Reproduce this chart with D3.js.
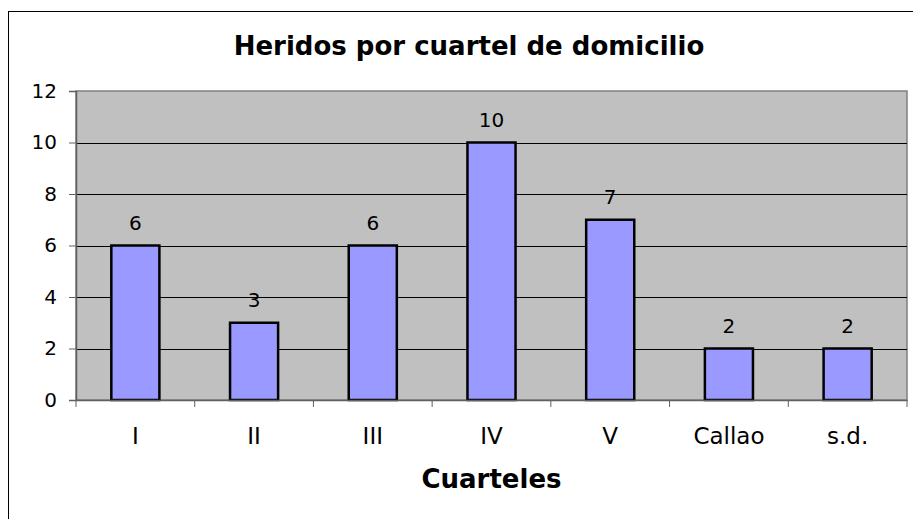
<!DOCTYPE html>
<html>
<head>
<meta charset="utf-8">
<script src="https://cdn.jsdelivr.net/npm/d3@7"></script>
<style>
  body { margin: 0; background: #ffffff; }
  text { font-family: "DejaVu Sans", Verdana, sans-serif; fill: #000; }
</style>
</head>
<body>
<script>
// chart data
var categories = ["I", "II", "III", "IV", "V", "Callao", "s.d."];
var heridos = [6, 3, 6, 10, 7, 2, 2];
var yTicks = [0, 2, 4, 6, 8, 10, 12];

var width = 913, height = 519;
var plot = { left: 76, top: 91, right: 907, bottom: 400 };

var svg = d3.select("body").append("svg")
    .attr("width", width)
    .attr("height", height);

// outer chart frame (runs off the right and bottom of the picture)
svg.append("rect")
    .attr("x", 8.5).attr("y", 11.5)
    .attr("width", 940).attr("height", 540)
    .attr("fill", "#fff")
    .attr("stroke", "#000").attr("stroke-width", 1);

var x = d3.scaleBand()
    .domain(categories)
    .range([plot.left, plot.right])
    .paddingInner(0.595)
    .paddingOuter(0.2975);

var xTicks = d3.scaleBand().domain(categories).range([plot.left, plot.right]);

var y = d3.scaleLinear().domain([0, 12]).range([plot.bottom, plot.top]);

// plot area background
svg.append("rect")
    .attr("x", plot.left).attr("y", plot.top)
    .attr("width", plot.right - plot.left).attr("height", plot.bottom - plot.top)
    .attr("fill", "#c0c0c0")
    .attr("stroke", "#808080").attr("stroke-width", 1.5);

// gridlines
svg.append("g").selectAll("line")
    .data(yTicks.filter(function(d) { return d > 0 && d < 12; }))
    .enter().append("line")
    .attr("x1", plot.left).attr("x2", plot.right)
    .attr("y1", function(d) { return Math.round(y(d)) + 0.5; })
    .attr("y2", function(d) { return Math.round(y(d)) + 0.5; })
    .attr("stroke", "#000").attr("stroke-width", 1);

// bars
svg.append("g").selectAll("rect")
    .data(heridos)
    .enter().append("rect")
    .attr("x", function(d, i) { return x(categories[i]); })
    .attr("y", function(d) { return y(d); })
    .attr("width", x.bandwidth())
    .attr("height", function(d) { return y(0) - y(d); })
    .attr("fill", "#9999ff")
    .attr("stroke", "#000").attr("stroke-width", 2.5);

// value labels
svg.append("g").selectAll("text")
    .data(heridos)
    .enter().append("text")
    .attr("x", function(d, i) { return x(categories[i]) + x.bandwidth() / 2; })
    .attr("y", function(d) { return y(d) - 16; })
    .attr("text-anchor", "middle")
    .attr("font-size", "20px")
    .text(function(d) { return d; });

// y axis
var yAxis = d3.axisLeft(y).tickValues(yTicks).tickSize(7).tickPadding(12);
var gy = svg.append("g")
    .attr("transform", "translate(" + plot.left + ",0)")
    .call(yAxis);
gy.select(".domain").attr("stroke", "#606060").attr("stroke-width", 1.5);
gy.selectAll(".tick line").attr("stroke", "#606060");
gy.selectAll("text").attr("font-size", "20px").attr("fill", "#000");

// x axis
var xAxis = d3.axisBottom(xTicks).tickSize(0).tickPadding(28);
var gx = svg.append("g")
    .attr("transform", "translate(0," + plot.bottom + ")")
    .call(xAxis);
gx.select(".domain").attr("stroke", "#606060").attr("stroke-width", 1.5);
gx.selectAll("text").attr("font-size", "23px").attr("fill", "#000");

// category separators on the x axis
var seps = [plot.left].concat(categories.map(function(c) { return xTicks(c) + xTicks.bandwidth(); }));
gx.selectAll(".sep")
    .data(seps)
    .enter().append("line")
    .attr("class", "sep")
    .attr("x1", function(d) { return d; }).attr("x2", function(d) { return d; })
    .attr("y1", 0).attr("y2", 7)
    .attr("stroke", "#606060");

// titles
svg.append("text")
    .attr("x", 469).attr("y", 55)
    .attr("text-anchor", "middle")
    .attr("font-size", "26px")
    .attr("font-weight", "bold")
    .text("Heridos por cuartel de domicilio");

svg.append("text")
    .attr("x", (plot.left + plot.right) / 2).attr("y", 488)
    .attr("text-anchor", "middle")
    .attr("font-size", "26px")
    .attr("font-weight", "bold")
    .text("Cuarteles");
</script>
</body>
</html>
